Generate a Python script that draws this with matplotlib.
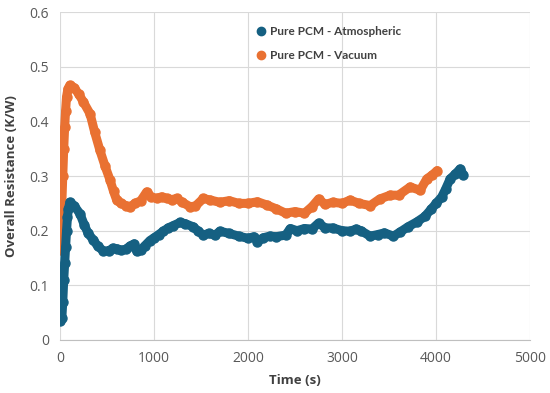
import numpy as np
import matplotlib.pyplot as plt
from matplotlib.lines import Line2D
from matplotlib.ticker import FuncFormatter

plt.rcParams['font.family'] = ['Open Sans', 'DejaVu Sans']

# values
t_atm = [0, 20, 30, 40, 50, 60, 70, 80, 90, 106, 150, 213, 260, 300, 355, 400, 461,
         520, 560, 603, 650, 700, 745, 790, 816, 860, 900, 957, 1000, 1050, 1099,
         1150, 1200, 1277, 1330, 1418, 1470, 1525, 1580, 1650, 1700, 1800, 1900,
         2000, 2060, 2100, 2160, 2230, 2300, 2400, 2450, 2520, 2600, 2680, 2750,
         2820, 2900, 3000, 3085, 3150, 3200, 3298, 3380, 3450, 3546, 3620, 3700,
         3794, 3880, 3950, 4000, 4060, 4100, 4149, 4200, 4255, 4290]
v_atm = [0.035, 0.04, 0.07, 0.11, 0.14, 0.17, 0.2, 0.225, 0.24, 0.252, 0.246, 0.231,
         0.21, 0.195, 0.183, 0.172, 0.163, 0.163, 0.168, 0.167, 0.164, 0.166, 0.172,
         0.176, 0.162, 0.165, 0.172, 0.182, 0.187, 0.193, 0.199, 0.205, 0.209, 0.215,
         0.213, 0.207, 0.199, 0.192, 0.195, 0.192, 0.199, 0.195, 0.19, 0.186, 0.189,
         0.18, 0.187, 0.19, 0.189, 0.192, 0.204, 0.2, 0.204, 0.203, 0.214, 0.205,
         0.205, 0.2, 0.199, 0.203, 0.2, 0.19, 0.193, 0.196, 0.19, 0.198, 0.207, 0.216,
         0.226, 0.24, 0.25, 0.262, 0.276, 0.295, 0.303, 0.313, 0.302]

t_vac = [0, 10, 20, 30, 40, 50, 60, 70, 85, 106, 150, 200, 248, 320, 370, 425, 480,
         532, 570, 603, 650, 700, 745, 800, 860, 922, 970, 1028, 1080, 1135, 1190,
         1241, 1300, 1383, 1440, 1525, 1600, 1700, 1800, 1900, 2000, 2100, 2200,
         2300, 2400, 2500, 2600, 2680, 2750, 2820, 2900, 3000, 3085, 3180, 3298,
         3400, 3511, 3600, 3723, 3830, 3901, 3960, 4010]
v_vac = [0.165, 0.2, 0.25, 0.3, 0.35, 0.39, 0.42, 0.445, 0.46, 0.466, 0.462, 0.45,
         0.436, 0.414, 0.38, 0.347, 0.318, 0.293, 0.272, 0.256, 0.25, 0.246, 0.244,
         0.25, 0.255, 0.271, 0.262, 0.259, 0.262, 0.259, 0.257, 0.259, 0.252, 0.244,
         0.245, 0.259, 0.256, 0.252, 0.255, 0.25, 0.25, 0.253, 0.247, 0.24, 0.232,
         0.235, 0.232, 0.244, 0.258, 0.248, 0.252, 0.25, 0.256, 0.25, 0.246, 0.258,
         0.265, 0.265, 0.28, 0.274, 0.295, 0.302, 0.31]

blue = '#156082'
orange = '#E97132'

fig = plt.figure(figsize=(5.5, 3.93), dpi=100)
ax = fig.add_axes([0.109, 0.135, 0.855, 0.834])

for t, v, c in [(t_vac, v_vac, orange), (t_atm, v_atm, blue)]:
    ax.plot(t, v, color=c, lw=6.5, solid_joinstyle='round', solid_capstyle='round',
            marker='o', ms=6.5, zorder=3)

ax.set_xlim(0, 5000)
ax.set_ylim(0, 0.6)
ax.set_xticks(np.arange(0, 5001, 1000))
ax.set_yticks(np.arange(0, 0.61, 0.1))
ax.yaxis.set_major_formatter(FuncFormatter(lambda y, p: '%g' % round(y, 1)))
ax.grid(True, color='#D9D9D9', lw=0.8)
ax.set_axisbelow(True)
for s in ['top', 'right', 'left']:
    ax.spines[s].set_visible(False)
ax.spines['bottom'].set_color('#BFBFBF')
ax.tick_params(length=0, labelsize=10, labelcolor='#595959', pad=8)

ax.set_xlabel('Time (s)', fontsize=9.5, fontweight='bold', color='#404040', labelpad=6)
ax.set_ylabel('Overall Resistance (K/W)', fontsize=9.5, fontweight='bold',
              color='#404040', labelpad=8)

handles = [Line2D([], [], ls='', marker='o', ms=6, color=blue),
           Line2D([], [], ls='', marker='o', ms=6, color=orange)]
leg = ax.legend(handles, ['Pure PCM - Atmospheric', 'Pure PCM - Vacuum'],
                loc='upper left', bbox_to_anchor=(0.395, 0.99), frameon=False,
                handlelength=0.8, handletextpad=0.4, labelspacing=1.1,
                prop={'family': 'Lato', 'weight': 'bold', 'size': 8.5})
for txt in leg.get_texts():
    txt.set_color('#404040')

fig.savefig('out.png', dpi=100)
